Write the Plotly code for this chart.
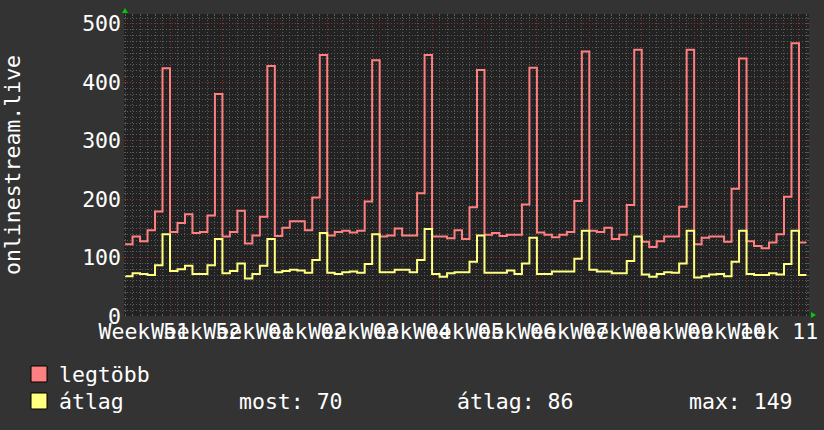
import plotly.graph_objects as go

# ---------------- data ----------------
series_names = ["legtöbb", "átlag"]

max_values = [
    123, 136, 128, 147, 179, 424, 144, 159, 174, 142, 144, 172, 380, 136,
    144, 180, 124, 138, 170, 428, 137, 151, 162, 162, 147, 203, 447, 138,
    144, 146, 143, 146, 196, 438, 136, 138, 150, 138, 138, 210, 447, 136,
    136, 133, 147, 132, 186, 421, 139, 142, 137, 139, 139, 191, 425, 143,
    139, 135, 139, 144, 197, 453, 146, 144, 151, 132, 139, 190, 456, 127,
    118, 128, 136, 136, 187, 456, 123, 134, 136, 136, 127, 218, 441, 128,
    120, 116, 126, 140, 204, 467, 126,
]

avg_values = [
    68, 73, 72, 70, 87, 140, 77, 80, 86, 72, 72, 87, 132, 73,
    77, 90, 64, 72, 86, 132, 75, 77, 79, 78, 74, 96, 142, 74,
    72, 75, 76, 74, 89, 140, 75, 75, 79, 79, 75, 96, 149, 72,
    67, 73, 75, 75, 93, 138, 74, 74, 74, 78, 72, 90, 134, 72,
    72, 76, 76, 76, 98, 146, 79, 76, 76, 73, 73, 94, 136, 71,
    67, 72, 75, 74, 90, 146, 66, 68, 71, 72, 68, 93, 146, 72,
    70, 70, 73, 71, 89, 146, 70,
]

week_labels = ["Week 51", "Week 52", "Week 01", "Week 02", "Week 03",
               "Week 04", "Week 05", "Week 06", "Week 07", "Week 08",
               "Week 09", "Week 10", "Week 11"]

stat_labels = ["most", "átlag", "max"]
stat_values = [70, 86, 149]

y_ticks = [0, 100, 200, 300, 400, 500]

# ---------------- derived ----------------
n_days = len(max_values)
day_edges = list(range(n_days + 1))          # step boundaries (days)
first_week_day = 6                             # first Monday inside window
week_bounds = [first_week_day + 7 * k for k in range(len(week_labels))]
week_centers = [b - 3.5 for b in week_bounds]

x_range = [-0.143, 91.34]
y_range = [0, 517]

FONT = "DejaVu Sans Mono"
FS = 21.5
RED = "#ff8080"
YEL = "#ffff80"
GRID_MINOR = "#5a5a5a"
GRID_MAJOR = "#8a3434"

# plot-area geometry in pixels (for paper-coordinate helpers)
PL, PR, PT, PB = 124, 809, 14, 316


def px_x(px):
    return (px - PL) / (PR - PL)


def px_y(py):
    return (PB - py) / (PB - PT)


fig = go.Figure()

fig.add_trace(go.Scatter(
    x=day_edges, y=max_values + [max_values[-1]], mode="lines",
    name=series_names[0],
    line=dict(color=RED, width=2, shape="hv"), showlegend=False,
    hoverinfo="skip"))
fig.add_trace(go.Scatter(
    x=day_edges, y=avg_values + [avg_values[-1]], mode="lines",
    name=series_names[1],
    line=dict(color=YEL, width=2, shape="hv"), showlegend=False,
    hoverinfo="skip"))

# dummy trace to carry the label axis
fig.add_trace(go.Scatter(x=[None], y=[None], xaxis="x2", showlegend=False,
                         hoverinfo="skip"))

fig.update_layout(
    width=824, height=430,
    margin=dict(l=PL, r=824 - PR, t=PT, b=430 - PB, autoexpand=False),
    paper_bgcolor="#333333", plot_bgcolor="#222222",
    font=dict(family=FONT, size=FS, color="#ffffff"),
    showlegend=False,
    xaxis=dict(range=x_range, tickmode="array", tickvals=week_bounds,
               showticklabels=False, showgrid=True, gridcolor=GRID_MAJOR,
               griddash="1px,2px", gridwidth=1, zeroline=False,
               showline=False, ticks="inside", ticklen=2,
               tickcolor=GRID_MAJOR, mirror="ticks", automargin=False,
               minor=dict(tickmode="array", tickvals=day_edges,
                          showgrid=True, gridcolor=GRID_MINOR,
                          griddash="1px,2px", gridwidth=1,
                          ticks="inside", ticklen=2, tickcolor=GRID_MINOR)),
    xaxis2=dict(range=x_range, overlaying="x", anchor="y", side="bottom",
                tickmode="array", tickvals=week_centers, ticktext=week_labels,
                tickangle=0, showgrid=False, zeroline=False, showline=False,
                ticks="", automargin=False,
                tickfont=dict(family=FONT, size=FS, color="#ffffff")),
    yaxis=dict(range=y_range, tickmode="array", tickvals=y_ticks,
               showgrid=True, gridcolor=GRID_MAJOR, griddash="1px,2px",
               gridwidth=1, zeroline=False, showline=False,
               ticks="inside", ticklen=2, tickcolor=GRID_MAJOR,
               mirror="ticks", automargin=False,
               ticklabelstandoff=2,
               tickfont=dict(family=FONT, size=FS, color="#ffffff"),
               title=dict(text="onlinestream.live", standoff=59,
                          font=dict(family=FONT, size=FS, color="#ffffff")),
               minor=dict(dtick=10, tick0=0, showgrid=True,
                          gridcolor=GRID_MINOR, griddash="1px,2px",
                          gridwidth=1, ticks="inside", ticklen=2,
                          tickcolor=GRID_MINOR)),
)

# legend (swatches + names)
legend_rows_py = [374, 401]
for name, col, py in zip(series_names, [RED, YEL], legend_rows_py):
    fig.add_shape(type="rect", xref="paper", yref="paper",
                  x0=px_x(31), x1=px_x(47), y0=px_y(py - 8), y1=px_y(py + 8),
                  fillcolor=col, line=dict(color="#000000", width=1))
    fig.add_annotation(text=name, xref="paper", yref="paper",
                       x=px_x(57), y=px_y(py),
                       xanchor="left", yanchor="middle", showarrow=False,
                       font=dict(family=FONT, size=FS, color="#ffffff"))

# stats text
stat_x_px = [238, 456, 688]
for lbl, val, px in zip(stat_labels, stat_values, stat_x_px):
    fig.add_annotation(text=f"{lbl}: {val}", xref="paper", yref="paper",
                       x=px_x(px - 1), y=px_y(legend_rows_py[1]),
                       xanchor="left", yanchor="middle", showarrow=False,
                       font=dict(family=FONT, size=FS, color="#ffffff"))

# green axis arrows (rrdtool style)
fig.add_shape(type="path", xref="paper", yref="paper",
              path=f"M {px_x(122)},{px_y(13)} L {px_x(128)},{px_y(13)} "
                   f"L {px_x(125)},{px_y(8)} Z",
              fillcolor="#00cc00", line=dict(width=0))
fig.add_shape(type="path", xref="paper", yref="paper",
              path=f"M {px_x(811)},{px_y(312)} L {px_x(811)},{px_y(318)} "
                   f"L {px_x(816)},{px_y(315)} Z",
              fillcolor="#00cc00", line=dict(width=0))

fig.write_html("out.html",
               config={"displayModeBar": False},
               post_script="document.body.style.margin='0';"
                           "document.body.style.padding='0';")
